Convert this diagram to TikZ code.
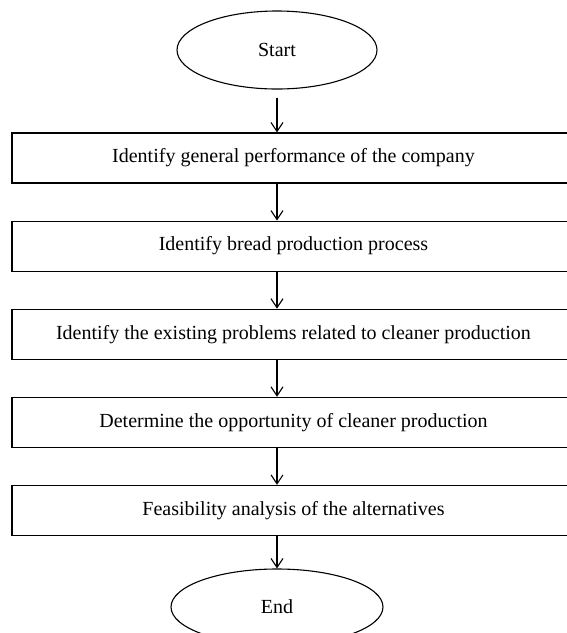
\documentclass[tikz,border=0pt]{standalone}
\usepackage{fontspec}
\setmainfont{Liberation Serif}
\usetikzlibrary{positioning,shapes.geometric,arrows.meta}

\begin{document}
\begin{tikzpicture}[x=1pt,y=1pt,line width=1.1pt,
  stepbox/.style={shape=rectangle,draw,minimum width=563pt,minimum height=50pt,inner sep=0pt,node font={\fontsize{20}{24}\selectfont}},
  endpoint/.style={shape=ellipse,draw,minimum width=200pt,minimum height=78pt,inner sep=0pt,node font={\fontsize{20}{24}\selectfont}},
  flow/.style={-{Straight Barb[length=9pt,width=12pt]}}]
\useasboundingbox (0,0) rectangle (566,-633);

\node[endpoint] (start) at (277,-50){Start};

\node[stepbox] (s1) at (293.5,-158){Identify general performance of the company};
\node[stepbox,below=37pt of s1] (s2){Identify bread production process};
\node[stepbox,below=37pt of s2] (s3){Identify the existing problems related to cleaner production};
\node[stepbox,below=37pt of s3] (s4){Determine the opportunity of cleaner production};
\node[stepbox,below=37pt of s4] (s5){Feasibility analysis of the alternatives};

\node[endpoint,minimum width=212pt,minimum height=76pt] (end) at (277,-607){End};

\draw[flow] ([yshift=-8pt]start.south) -- (start |- s1.north);
\draw[flow] (s1.south -| start) -- (s2.north -| start);
\draw[flow] (s2.south -| start) -- (s3.north -| start);
\draw[flow] (s3.south -| start) -- (s4.north -| start);
\draw[flow] (s4.south -| start) -- (s5.north -| start);
\draw[flow] (s5.south -| end) -- (end.north);
\end{tikzpicture}
\end{document}
